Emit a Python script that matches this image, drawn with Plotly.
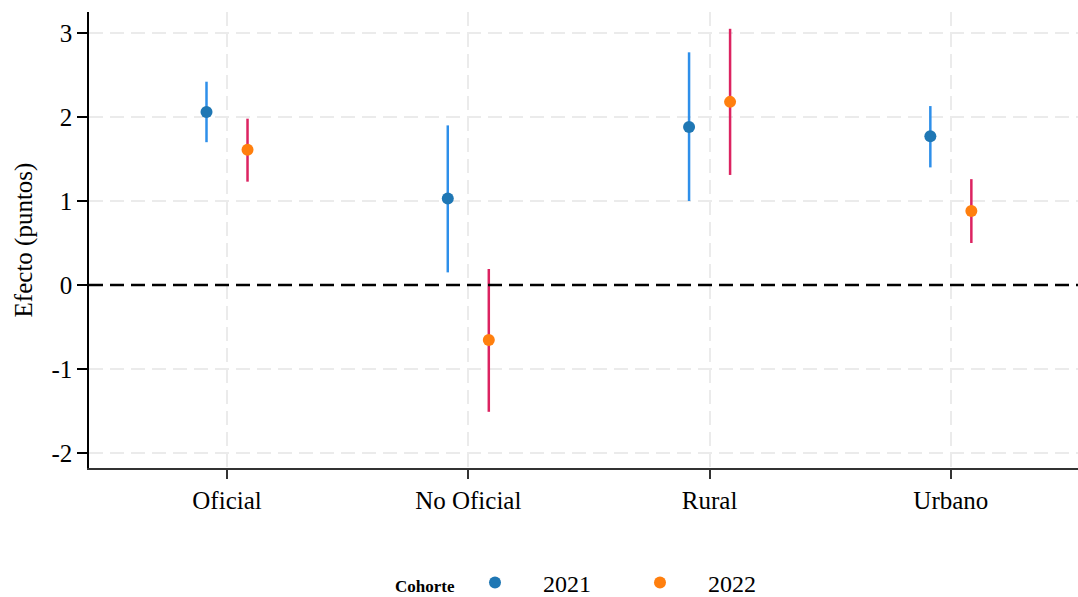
import plotly.graph_objects as go

# Estimates by sector and cohort (points) with confidence intervals
categorias = ["Oficial", "No Oficial", "Rural", "Urbano"]
cohortes = ["2021", "2022"]

efecto_2021 = [2.06, 1.03, 1.88, 1.77]
ic_inf_2021 = [1.70, 0.15, 1.00, 1.40]
ic_sup_2021 = [2.42, 1.90, 2.77, 2.13]

efecto_2022 = [1.61, -0.655, 2.18, 0.88]
ic_inf_2022 = [1.23, -1.51, 1.31, 0.50]
ic_sup_2022 = [1.98, 0.19, 3.05, 1.26]

y_ticks = [-2, -1, 0, 1, 2, 3]

serif = "Liberation Serif, Times New Roman, serif"
grid_col = "#ebebeb"

series = [
    (cohortes[0], efecto_2021, ic_inf_2021, ic_sup_2021, -0.085, "#1f77b4", "#2e8fea"),
    (cohortes[1], efecto_2022, ic_inf_2022, ic_sup_2022, 0.085, "#ff7f0e", "#dc2361"),
]

fig = go.Figure()
for name, est, lo, hi, off, mcol, lcol in series:
    xs = [i + off for i in range(len(categorias))]
    fig.add_trace(go.Scatter(
        x=xs, y=est, mode="markers", name=name,
        marker=dict(color=mcol, size=12),
        error_y=dict(
            type="data", symmetric=False,
            array=[h - e for h, e in zip(hi, est)],
            arrayminus=[e - l for e, l in zip(est, lo)],
            color=lcol, thickness=2.5, width=0,
        ),
        hovertext=categorias,
    ))

# Reference line at zero
fig.add_shape(type="line", xref="paper", x0=0, x1=1, yref="y", y0=0, y1=0,
              line=dict(color="black", width=2.5, dash="14px,7px"), layer="above")

# Legend heading
fig.add_annotation(text="<b>Cohorte</b>", xref="paper", yref="paper",
                   x=(425 - 89) / 989, y=-(586 - 468) / 456,
                   xanchor="center", yanchor="middle", showarrow=False,
                   font=dict(size=17, family=serif, color="black"))

fig.update_layout(
    width=1078, height=597,
    margin=dict(l=89, r=0, t=12, b=129, autoexpand=False),
    plot_bgcolor="white", paper_bgcolor="white",
    font=dict(family=serif, color="black", size=24),
    showlegend=True,
    legend=dict(
        orientation="h", x=(447 - 89) / 989, xanchor="left",
        y=-(583 - 468) / 456, yanchor="middle",
        valign="middle", tracegroupgap=0,
        borderwidth=0, bgcolor="rgba(0,0,0,0)",
        font=dict(size=24, family=serif),
        itemwidth=86,
        entrywidth=64, entrywidthmode="pixels",
    ),
    xaxis=dict(
        range=[-0.572, 3.527],
        tickvals=list(range(len(categorias))), ticktext=categorias,
        showgrid=True, gridcolor=grid_col, gridwidth=2, griddash="14px,7px",
        zeroline=False, showline=True, linecolor="#333333", linewidth=2,
        ticks="outside", ticklen=9, tickwidth=1.5, tickcolor="#333333",
        tickfont=dict(size=25, family=serif),
    ),
    yaxis=dict(
        range=[-2.179, 3.25],
        tickvals=y_ticks, ticktext=[str(v) for v in y_ticks],
        showgrid=True, gridcolor=grid_col, gridwidth=2, griddash="14px,7px",
        zeroline=False, showline=True, linecolor="black", linewidth=1.5,
        ticks="outside", ticklen=10, tickwidth=1.5, tickcolor="black",
        tickfont=dict(size=25, family=serif),
        title=dict(text="Efecto (puntos)", font=dict(size=25, family=serif), standoff=12),
    ),
)

fig.write_html("out.html")
